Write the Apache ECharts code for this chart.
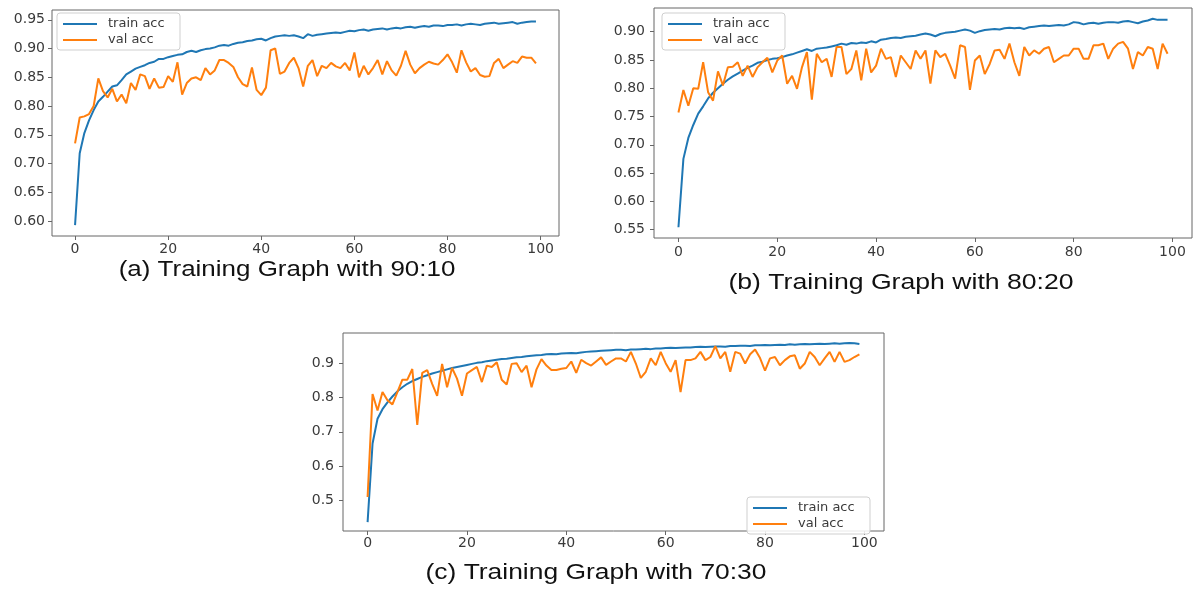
<!DOCTYPE html>
<html>
<head>
<meta charset="utf-8">
<script src="https://cdn.jsdelivr.net/npm/echarts@6/dist/echarts.min.js"></script>
<style>
html,body{margin:0;padding:0;background:#fff;}
#chart{width:1195px;height:590px;}
</style>
</head>
<body>
<div id="chart"></div>
<script>
// ---------- data ----------
const seriesNames = ['train acc', 'val acc'];
const captions = ['(a) Training Graph with 90:10', '(b) Training Graph with 80:20', '(c) Training Graph with 70:30'];
const xTicks = [0, 20, 40, 60, 80, 100];
const yTicksA = [0.60, 0.65, 0.70, 0.75, 0.80, 0.85, 0.90, 0.95];
const yTicksB = [0.55, 0.60, 0.65, 0.70, 0.75, 0.80, 0.85, 0.90];
const yTicksC = [0.5, 0.6, 0.7, 0.8, 0.9];

const trainA = [0.593,0.718,0.753,0.775,0.793,0.808,0.816,0.825,0.834,0.836,
0.845,0.855,0.860,0.865,0.868,0.871,0.875,0.877,0.882,0.882,
0.885,0.887,0.889,0.890,0.894,0.896,0.894,0.897,0.899,0.900,
0.902,0.905,0.906,0.905,0.908,0.910,0.911,0.913,0.914,0.916,
0.917,0.914,0.918,0.921,0.922,0.923,0.922,0.923,0.921,0.918,
0.925,0.922,0.924,0.925,0.926,0.927,0.928,0.927,0.929,0.931,
0.930,0.932,0.933,0.931,0.933,0.934,0.935,0.933,0.935,0.936,
0.935,0.937,0.938,0.936,0.938,0.939,0.938,0.940,0.940,0.939,
0.941,0.941,0.942,0.940,0.942,0.943,0.942,0.941,0.943,0.944,
0.945,0.943,0.944,0.945,0.946,0.943,0.945,0.946,0.947,0.947];
const valA = [0.735,0.780,0.782,0.786,0.800,0.848,0.826,0.815,0.830,0.808,
0.820,0.805,0.840,0.828,0.855,0.852,0.830,0.848,0.832,0.833,
0.852,0.842,0.876,0.820,0.840,0.848,0.850,0.845,0.866,0.855,
0.862,0.880,0.880,0.875,0.868,0.850,0.838,0.834,0.867,0.828,
0.819,0.832,0.897,0.900,0.856,0.860,0.875,0.884,0.866,0.834,
0.870,0.880,0.852,0.870,0.866,0.875,0.869,0.866,0.875,0.862,
0.893,0.850,0.870,0.855,0.866,0.880,0.855,0.878,0.862,0.853,
0.870,0.896,0.872,0.857,0.866,0.872,0.877,0.874,0.872,0.880,
0.890,0.876,0.858,0.897,0.876,0.860,0.866,0.854,0.851,0.852,
0.875,0.882,0.866,0.872,0.878,0.875,0.886,0.884,0.884,0.874];

const trainB = [0.554,0.675,0.712,0.735,0.755,0.768,0.782,0.792,0.800,0.808,
0.815,0.821,0.826,0.831,0.836,0.840,0.845,0.847,0.850,0.852,
0.853,0.855,0.858,0.860,0.863,0.866,0.869,0.866,0.870,0.871,
0.872,0.874,0.876,0.879,0.877,0.880,0.879,0.881,0.880,0.883,
0.881,0.886,0.887,0.889,0.890,0.889,0.891,0.892,0.893,0.895,
0.897,0.895,0.892,0.896,0.898,0.899,0.900,0.902,0.904,0.902,
0.898,0.901,0.903,0.904,0.905,0.904,0.906,0.907,0.906,0.907,
0.905,0.908,0.909,0.910,0.911,0.910,0.911,0.912,0.911,0.913,
0.917,0.916,0.913,0.915,0.916,0.914,0.916,0.917,0.917,0.916,
0.918,0.919,0.917,0.915,0.918,0.920,0.923,0.921,0.921,0.921];
const valB = [0.757,0.797,0.769,0.800,0.799,0.846,0.793,0.778,0.830,0.805,
0.837,0.838,0.846,0.822,0.840,0.820,0.837,0.846,0.854,0.828,
0.849,0.858,0.808,0.822,0.799,0.837,0.864,0.780,0.861,0.846,
0.852,0.820,0.873,0.873,0.825,0.834,0.867,0.814,0.870,0.828,
0.840,0.870,0.852,0.855,0.820,0.858,0.846,0.834,0.867,0.852,
0.867,0.808,0.867,0.855,0.861,0.840,0.817,0.876,0.873,0.797,
0.849,0.858,0.825,0.843,0.867,0.868,0.852,0.879,0.846,0.822,
0.873,0.858,0.867,0.861,0.870,0.873,0.846,0.852,0.858,0.858,
0.870,0.870,0.852,0.852,0.876,0.876,0.879,0.852,0.870,0.879,
0.882,0.870,0.834,0.864,0.858,0.873,0.870,0.834,0.879,0.861];

const trainC = [0.437,0.666,0.738,0.766,0.786,0.803,0.818,0.830,0.840,0.848,
0.854,0.860,0.865,0.870,0.874,0.878,0.882,0.886,0.889,0.892,
0.895,0.898,0.901,0.903,0.906,0.908,0.910,0.912,0.913,0.915,
0.917,0.918,0.920,0.922,0.923,0.924,0.926,0.927,0.926,0.928,
0.929,0.930,0.929,0.931,0.933,0.934,0.935,0.936,0.937,0.938,
0.939,0.939,0.938,0.940,0.940,0.941,0.942,0.941,0.943,0.943,
0.944,0.945,0.944,0.945,0.946,0.946,0.947,0.948,0.947,0.948,
0.949,0.949,0.948,0.950,0.950,0.951,0.951,0.950,0.952,0.952,
0.953,0.952,0.953,0.954,0.953,0.955,0.954,0.955,0.956,0.955,
0.956,0.957,0.956,0.957,0.958,0.957,0.958,0.959,0.958,0.956];
const valC = [0.510,0.810,0.762,0.816,0.792,0.780,0.816,0.852,0.852,0.883,
0.720,0.872,0.880,0.840,0.805,0.898,0.830,0.886,0.855,0.805,
0.870,0.880,0.889,0.845,0.893,0.889,0.903,0.852,0.838,0.898,
0.900,0.874,0.893,0.830,0.882,0.912,0.893,0.880,0.880,0.884,
0.886,0.905,0.872,0.910,0.900,0.893,0.905,0.917,0.895,0.905,
0.914,0.914,0.905,0.933,0.899,0.857,0.875,0.914,0.894,0.933,
0.900,0.875,0.909,0.816,0.909,0.909,0.914,0.933,0.909,0.918,
0.950,0.914,0.933,0.875,0.933,0.928,0.899,0.926,0.940,0.915,
0.878,0.914,0.918,0.894,0.909,0.920,0.923,0.884,0.899,0.933,
0.918,0.894,0.914,0.933,0.904,0.933,0.904,0.909,0.918,0.926];

// ---------- layout ----------
const BLUE = '#1f77b4', ORANGE = '#ff7f0e';
const FRAME = '#666', TXT = '#3a3a3a';
const panels = [
  {grid:{left:52, top:10, width:507, height:226}, y:[0.574,0.967], yTicks:yTicksA, dec:2, train:trainA, val:valA,
   ym:7, xm:6, legend:{left:57, top:13}, cap:{x:287, y:270, sx:1.18}},
  {grid:{left:654, top:8, width:538, height:230}, y:[0.535,0.942], yTicks:yTicksB, dec:2, train:trainB, val:valB,
   ym:9, xm:7, legend:{left:662, top:13}, cap:{x:901, y:283, sx:1.21}},
  {grid:{left:343, top:333, width:541, height:198}, y:[0.411,0.988], yTicks:yTicksC, dec:1, train:trainC, val:valC,
   ym:9, xm:5, legend:{left:747, top:497}, cap:{x:596, y:573, sx:1.2}}
];

const toXY = arr => arr.map((v, i) => [i, v]);

const option = {
  animation: false,
  backgroundColor: '#fff',
  grid: [], xAxis: [], yAxis: [], series: [], legend: [], graphic: []
};

panels.forEach((p, k) => {
  option.grid.push(Object.assign({show:true, borderColor:FRAME, borderWidth:1, backgroundColor:'transparent'}, p.grid));
  option.xAxis.push({
    type:'value', gridIndex:k, min:-4.95, max:103.95, position:'bottom',
    splitLine:{show:false}, axisLine:{show:false, onZero:false},
    axisTick:{show:true, inside:false, length:4, lineStyle:{color:FRAME}, customValues:xTicks},
    axisLabel:{customValues:xTicks, margin:p.xm, color:TXT, fontFamily:'DejaVu Sans', fontSize:14,
      formatter: v => String(Math.round(v))}
  });
  option.yAxis.push({
    type:'value', gridIndex:k, min:p.y[0], max:p.y[1], position:'left',
    splitLine:{show:false}, axisLine:{show:false, onZero:false},
    axisTick:{show:true, inside:false, length:4, lineStyle:{color:FRAME}, customValues:p.yTicks},
    axisLabel:{customValues:p.yTicks, margin:p.ym, color:TXT, fontFamily:'DejaVu Sans', fontSize:14,
      formatter: v => v.toFixed(p.dec)}
  });
  option.series.push({
    name:seriesNames[0], type:'line', xAxisIndex:k, yAxisIndex:k, data:toXY(p.train),
    showSymbol:false, symbol:'none', lineStyle:{color:BLUE, width:2}, itemStyle:{color:BLUE}, z:2
  });
  option.series.push({
    name:seriesNames[1], type:'line', xAxisIndex:k, yAxisIndex:k, data:toXY(p.val),
    showSymbol:false, symbol:'none', lineStyle:{color:ORANGE, width:2}, itemStyle:{color:ORANGE}, z:3
  });
  option.legend.push({
    data:seriesNames, orient:'vertical', left:p.legend.left, top:p.legend.top,
    icon:'rect', itemWidth:34, itemHeight:2, itemGap:0,
    padding:[3,6,2,6], borderColor:'#cfcfcf', borderWidth:1, borderRadius:3,
    backgroundColor:'rgba(255,255,255,0.85)',
    textStyle:{fontFamily:'DejaVu Sans', fontSize:13, color:TXT, lineHeight:16, width:66, padding:[0,0,0,6]},
    selectedMode:false
  });
  option.graphic.push({
    type:'text', x:p.cap.x, y:p.cap.y, scaleX:p.cap.sx, scaleY:1,
    style:{text:captions[k], font:'22px "Liberation Sans", Arial, sans-serif', fill:'#111',
      align:'center', verticalAlign:'middle'}
  });
});

const chart = echarts.init(document.getElementById('chart'));
chart.setOption(option);
</script>
</body>
</html>
